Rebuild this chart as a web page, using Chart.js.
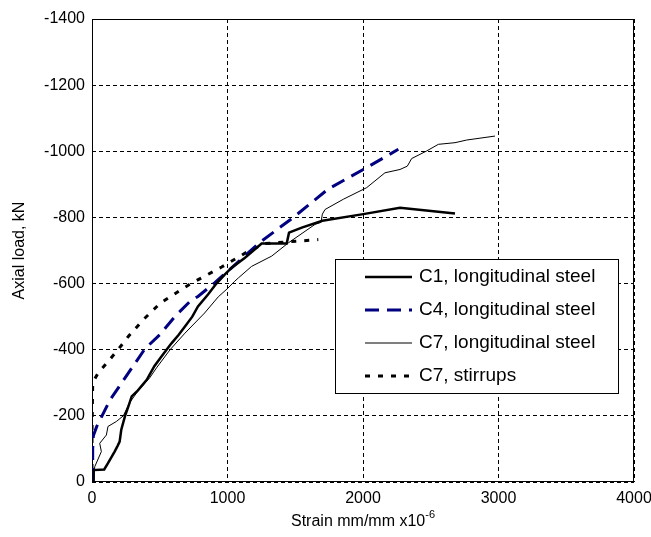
<!DOCTYPE html>
<html>
<head>
<meta charset="utf-8">
<script src="https://cdn.jsdelivr.net/npm/chart.js@4.4.1/dist/chart.umd.min.js"></script>
<style>
  html, body { margin: 0; padding: 0; background: #fff; }
</style>
</head>
<body>
<canvas id="strainLoad" width="651" height="537"></canvas>
<script>
// axis ticks
var strainTicks = [0, 1000, 2000, 3000, 4000];
var loadTicks = [0, -200, -400, -600, -800, -1000, -1200, -1400];

// C1, longitudinal steel
var c1Strain = [8, 12, 90, 118, 150, 167, 190, 204, 216, 244, 268, 293, 339, 404, 460, 514, 550, 588, 640, 686, 740, 782, 856, 918, 979, 1031, 1129, 1252, 1437, 1454, 1548, 1700, 2002, 2273, 2679];
var c1Load = [0, -36, -38, -57, -80, -92, -110, -122, -158, -200, -228, -259, -277, -309, -350, -380, -400, -420, -445, -470, -500, -531, -567, -600, -627, -648, -678, -721, -721, -754, -769, -790, -810, -829, -812];

// C4, longitudinal steel
var c4Strain = [5, 5, 10, 35, 133, 244, 391, 499, 613, 723, 782, 905, 1028, 1240, 1486, 1740, 2002, 2261];
var c4Load = [0, -100, -140, -168, -248, -315, -403, -445, -501, -546, -561, -602, -647, -725, -800, -885, -945, -1006];

// C7, longitudinal steel
var c7Strain = [12, 20, 69, 57, 106, 118, 180, 231, 278, 339, 426, 476, 576, 686, 831, 932, 1000, 1053, 1080, 1178, 1326, 1449, 1646, 1690, 1700, 1720, 1855, 2027, 2162, 2273, 2327, 2359, 2470, 2556, 2679, 2765, 2974];
var c7Load = [0, -46, -92, -117, -142, -168, -183, -200, -240, -275, -315, -345, -400, -450, -511, -560, -585, -607, -617, -652, -683, -723, -779, -785, -810, -824, -855, -890, -935, -945, -955, -978, -1001, -1021, -1026, -1034, -1046];

// C7, stirrups
var c7sStrain = [0, 0, 5, 44, 120, 192, 268, 379, 502, 659, 730, 957, 1154, 1277, 1670];
var c7sLoad = [0, -150, -300, -329, -365, -400, -440, -491, -540, -582, -600, -650, -698, -721, -733];

var FONT = "'Liberation Sans', Arial, sans-serif";

function pts(xs, ys) {
  return xs.map(function(x, i) { return {x: x, y: ys[i]}; });
}

// solid box round the plot area
var frame = {
  id: 'frame',
  beforeDatasetsDraw: function(chart) {
    var a = chart.chartArea, ctx = chart.ctx;
    ctx.save();
    ctx.strokeStyle = '#000';
    ctx.lineWidth = 1;
    ctx.strokeRect(Math.round(a.left) + 0.5, Math.round(a.top) + 0.5,
      Math.round(a.right - a.left) - 1, Math.round(a.bottom - a.top) - 1);
    ctx.restore();
  }
};

// axis titles (x title carries a superscript)
var titles = {
  id: 'titles',
  afterDraw: function(chart) {
    var a = chart.chartArea, ctx = chart.ctx;
    ctx.save();
    ctx.fillStyle = '#000';
    ctx.textBaseline = 'middle';

    var main = 'Strain mm/mm x10', sup = '-6';
    ctx.font = '16px ' + FONT;
    var w1 = ctx.measureText(main).width;
    ctx.font = '11px ' + FONT;
    var w2 = ctx.measureText(sup).width;
    var x0 = (a.left + a.right) / 2 - (w1 + w2) / 2;
    ctx.font = '16px ' + FONT;
    ctx.textAlign = 'left';
    ctx.fillText(main, x0, 522);
    ctx.font = '11px ' + FONT;
    ctx.fillText(sup, x0 + w1, 515);

    ctx.translate(20, (a.top + a.bottom) / 2);
    ctx.rotate(-Math.PI / 2);
    ctx.textAlign = 'center';
    ctx.font = '16px ' + FONT;
    ctx.fillText('Axial load, kN', 0, 0);
    ctx.restore();
  }
};

// boxed legend inside the plot
var boxLegend = {
  id: 'boxLegend',
  afterDraw: function(chart) {
    var ctx = chart.ctx;
    var bx = 335, by = 259, bw = 283, bh = 134, row = 33;
    ctx.save();
    ctx.fillStyle = '#fff';
    ctx.fillRect(bx, by, bw, bh);
    ctx.strokeStyle = '#000';
    ctx.lineWidth = 1;
    ctx.strokeRect(bx + 0.5, by + 0.5, bw, bh);
    ctx.font = '19px ' + FONT;
    ctx.textBaseline = 'middle';
    chart.data.datasets.forEach(function(ds, i) {
      var y = by + 18 + i * row;
      ctx.beginPath();
      ctx.setLineDash(ds.borderDash || []);
      ctx.lineWidth = ds.borderWidth;
      ctx.strokeStyle = ds.borderColor;
      ctx.moveTo(bx + 30, y);
      ctx.lineTo(bx + 77, y);
      ctx.stroke();
      ctx.setLineDash([]);
      ctx.fillStyle = '#000';
      ctx.fillText(ds.label, bx + 84, y);
    });
    ctx.restore();
  }
};

var ctx = document.getElementById('strainLoad');
var chart = new Chart(ctx, {
  type: 'scatter',
  data: {
    datasets: [
      {
        label: 'C1, longitudinal steel',
        data: pts(c1Strain, c1Load),
        borderColor: '#000',
        borderWidth: 2.5,
        showLine: true
      },
      {
        label: 'C4, longitudinal steel',
        data: pts(c4Strain, c4Load),
        borderColor: '#000080',
        borderWidth: 3,
        borderDash: [14, 8],
        showLine: true
      },
      {
        label: 'C7, longitudinal steel',
        data: pts(c7Strain, c7Load),
        borderColor: '#000',
        borderWidth: 1,
        showLine: true
      },
      {
        label: 'C7, stirrups',
        data: pts(c7sStrain, c7sLoad),
        borderColor: '#000',
        borderWidth: 3,
        borderDash: [5, 8],
        showLine: true
      }
    ]
  },
  options: {
    responsive: false,
    animation: false,
    devicePixelRatio: 1,
    layout: { padding: { top: 19, right: 17, left: 0, bottom: 0 } },
    elements: {
      point: { radius: 0, hoverRadius: 0 },
      line: { tension: 0, fill: false, borderCapStyle: 'butt' }
    },
    plugins: {
      legend: { display: false },
      tooltip: { enabled: false }
    },
    scales: {
      x: {
        type: 'linear',
        min: 0,
        max: 4000,
        afterBuildTicks: function(scale) {
          scale.ticks = strainTicks.map(function(v) { return {value: v}; });
        },
        afterFit: function(scale) {
          scale.height = 55;
          scale.paddingLeft = 0;
          scale.paddingRight = 0;
        },
        ticks: {
          color: '#000',
          padding: 7,
          maxRotation: 0,
          font: { family: FONT, size: 16 },
          callback: function(v) { return String(v); }
        },
        grid: { color: '#000', lineWidth: 1, drawTicks: false },
        border: { display: false, dash: [4, 3] }
      },
      y: {
        type: 'linear',
        min: -1400,
        max: 0,
        reverse: true,
        afterBuildTicks: function(scale) {
          scale.ticks = loadTicks.map(function(v) { return {value: v}; });
        },
        afterFit: function(scale) {
          scale.width = 92;
          scale.paddingTop = 0;
          scale.paddingBottom = 0;
        },
        ticks: {
          color: '#000',
          padding: 7,
          font: { family: FONT, size: 16 },
          callback: function(v) { return String(v); }
        },
        grid: { color: '#000', lineWidth: 1, drawTicks: false },
        border: { display: false, dash: [4, 3] }
      }
    }
  },
  plugins: [frame, titles, boxLegend]
});
</script>
</body>
</html>
